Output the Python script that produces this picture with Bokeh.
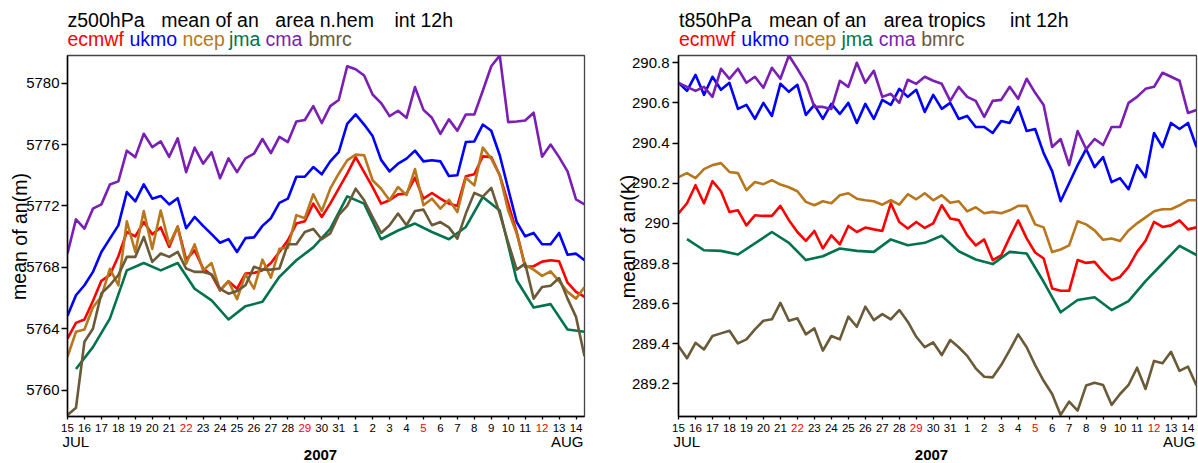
from bokeh.plotting import figure
from bokeh.models import Range1d, FixedTicker, ColumnDataSource, CustomJSTickFormatter, GridBox, Column
from bokeh.core.properties import value
from bokeh.embed import file_html
from bokeh.resources import INLINE

# ---------------- data ----------------
# time axis: days since 15 Jul 2007 00UTC, every 12h; jma once a day at 12UTC
t_all = [i * 0.5 for i in range(62)]
t_jma = [0.5 + i for i in range(31)]

day_labels = ["15", "16", "17", "18", "19", "20", "21", "22", "23", "24", "25", "26", "27", "28", "29",
              "30", "31", "1", "2", "3", "4", "5", "6", "7", "8", "9", "10", "11", "12", "13", "14"]
sunday_index = [7, 14, 21, 28]          # 22 Jul, 29 Jul, 5 Aug, 12 Aug
month_labels = ["JUL", "AUG"]
year_label = "2007"

centres = ["ecmwf", "ukmo", "ncep", "jma", "cma", "bmrc"]
colors = ["#FF0000", "#0000FF", "#B8771C", "#00734D", "#7A1EB4", "#6B5A37"]

# z500hPa, n.hem (m)
z_ecmwf = [5763.36, 5764.38, 5764.6, 5765.8, 5767.12, 5767.5, 5768.72, 5770.3, 5770.02, 5770.95,
           5770.15, 5770.6, 5769.33, 5770.66, 5768.5, 5769.1, 5767.92, 5767.5, 5766.5, 5767.1,
           5766.6, 5767.6, 5767.63, 5767.8, 5768.28, 5769.0, 5769.76, 5770.85, 5771.0, 5772.15,
           5771.28, 5772.15, 5773.12, 5774.1, 5775.18, 5774.2, 5773.23, 5772.15, 5772.37, 5772.75,
           5772.8, 5773.84, 5772.47, 5772.84, 5772.47, 5772.15, 5772.0, 5773.93, 5774.06, 5775.23,
           5775.18, 5774.0, 5772.15, 5770.3, 5768.03, 5768.07, 5768.37, 5768.46, 5768.4, 5767.0,
           5766.4, 5766.08]
z_ukmo = [5764.84, 5766.18, 5766.83, 5767.7, 5769.0, 5769.87, 5770.73, 5772.9, 5772.3, 5773.4,
          5772.47, 5772.65, 5772.1, 5772.5, 5770.55, 5771.28, 5770.7, 5770.16, 5769.6, 5769.84,
          5769.0, 5769.9, 5769.95, 5770.7, 5771.2, 5772.2, 5772.47, 5773.9, 5773.9, 5774.53,
          5774.06, 5774.9, 5775.5, 5777.35, 5777.96, 5777.3, 5776.55, 5775.0, 5774.25, 5774.75,
          5775.08, 5775.6, 5774.9, 5774.97, 5774.9, 5773.95, 5774.0, 5776.16, 5776.2, 5777.3,
          5776.9, 5775.3, 5773.1, 5770.95, 5770.02, 5770.24, 5769.5, 5769.5, 5770.24, 5768.82,
          5768.89, 5768.46]
z_ncep = [5762.17, 5763.8, 5763.95, 5765.4, 5766.1, 5767.9, 5766.83, 5771.0, 5769.0, 5771.67,
          5769.2, 5771.7, 5769.5, 5770.63, 5768.24, 5769.5, 5767.8, 5768.28, 5766.5, 5767.1,
          5765.92, 5767.55, 5766.61, 5768.5, 5767.33, 5769.2, 5769.28, 5771.4, 5771.2, 5772.76,
          5771.67, 5773.12, 5774.1, 5774.97, 5775.34, 5775.3, 5773.67, 5773.12, 5772.37, 5773.23,
          5772.7, 5774.4, 5772.04, 5772.47, 5771.82, 5772.4, 5771.6, 5773.84, 5773.34, 5775.8,
          5775.08, 5774.0, 5771.7, 5770.2, 5768.14, 5767.85, 5767.44, 5767.74, 5767.1, 5766.4,
          5765.96, 5766.72]
z_jma = [5761.37, 5762.8, 5764.66, 5767.8, 5768.28, 5767.8, 5768.28, 5766.6, 5765.85, 5764.6,
         5765.47, 5765.75, 5767.38, 5768.46, 5769.3, 5770.5, 5772.62, 5772.15, 5769.83, 5770.4,
         5770.85, 5770.3, 5769.83, 5770.63, 5772.58, 5771.7, 5767.16, 5765.38, 5765.6, 5763.95,
         5763.8]
z_cma = [5768.9, 5771.13, 5770.52, 5771.82, 5772.1, 5773.4, 5773.6, 5775.6, 5775.18, 5776.7,
         5775.83, 5776.2, 5775.2, 5776.4, 5774.2, 5775.8, 5774.75, 5775.5, 5773.8, 5775.1,
         5774.2, 5775.1, 5775.4, 5776.36, 5775.44, 5776.5, 5776.16, 5777.5, 5777.6, 5778.5,
         5777.4, 5778.5, 5778.9, 5781.1, 5780.9, 5780.5, 5779.26, 5778.7, 5777.85, 5778.2,
         5777.74, 5779.74, 5778.26, 5777.74, 5776.7, 5777.64, 5776.9, 5777.96, 5777.96, 5779.5,
         5781.1, 5781.8, 5777.46, 5777.5, 5777.57, 5778.07, 5775.2, 5776.0, 5775.18, 5774.25,
         5772.43, 5772.1]
z_bmrc = [5758.37, 5758.85, 5763.15, 5764.0, 5766.3, 5766.83, 5767.5, 5768.68, 5768.68, 5769.98,
          5768.35, 5768.9, 5768.68, 5769.0, 5767.92, 5767.7, 5767.7, 5767.55, 5766.6, 5766.28,
          5766.45, 5766.83, 5768.03, 5767.85, 5767.85, 5767.92, 5769.5, 5769.5, 5770.3, 5770.5,
          5769.83, 5770.2, 5771.4, 5772.0, 5773.12, 5772.37, 5771.28, 5770.24, 5770.74, 5771.5,
          5770.74, 5771.67, 5771.76, 5770.74, 5770.95, 5770.6, 5769.87, 5771.5, 5772.85, 5772.6,
          5773.17, 5771.5, 5769.6, 5767.85, 5768.24, 5765.96, 5766.72, 5766.8, 5767.3, 5765.96,
          5764.77, 5762.2]

# t850hPa, tropics (K)
t_ecmwf = [290.05, 290.10, 290.19, 290.10, 290.21, 290.16, 290.057, 290.065, 289.99, 290.04,
           290.037, 290.037, 290.087, 290.016, 289.957, 289.913, 289.962, 289.875, 289.94, 289.896,
           289.987, 289.957, 289.979, 289.97, 289.962, 290.10, 290.007, 289.974, 290.007, 289.977,
           290.0, 290.09, 290.024, 290.016, 289.94, 289.89, 289.92, 289.817, 289.84, 289.93,
           290.015, 289.925, 289.855, 289.825, 289.676, 289.664, 289.664, 289.817, 289.803, 289.808,
           289.758, 289.717, 289.733, 289.783, 289.858, 289.913, 290.007, 289.982, 289.99, 290.015,
           289.97, 289.98]
t_ukmo = [290.70, 290.66, 290.74, 290.64, 290.73, 290.665, 290.70, 290.57, 290.59, 290.52,
          290.60, 290.535, 290.695, 290.655, 290.69, 290.54, 290.59, 290.52, 290.595, 290.545,
          290.60, 290.50, 290.595, 290.52, 290.615, 290.59, 290.67, 290.63, 290.665, 290.555,
          290.64, 290.57, 290.60, 290.52, 290.535, 290.48, 290.48, 290.45, 290.51, 290.50,
          290.58, 290.46, 290.47, 290.35, 290.26, 290.11, 290.20, 290.29, 290.37, 290.28,
          290.33, 290.205, 290.225, 290.17, 290.29, 290.23, 290.45, 290.38, 290.50, 290.47,
          290.50, 290.38]
t_ncep = [290.23, 290.25, 290.225, 290.27, 290.29, 290.30, 290.256, 290.25, 290.165, 290.206,
          290.195, 290.215, 290.193, 290.18, 290.16, 290.107, 290.09, 290.11, 290.10, 290.14,
          290.15, 290.123, 290.115, 290.11, 290.093, 290.115, 290.093, 290.145, 290.12, 290.15,
          290.115, 290.14, 290.103, 290.11, 290.06, 290.08, 290.05, 290.057, 290.05, 290.065,
          290.087, 290.087, 289.995, 289.98, 289.857, 289.87, 289.89, 290.01, 289.995, 289.965,
          289.918, 289.925, 289.912, 289.965, 290.0, 290.03, 290.06, 290.07, 290.07, 290.09,
          290.115, 290.115]
t_jma_v = [289.921, 289.866, 289.863, 289.845, 289.90, 289.957, 289.903, 289.817, 289.836, 289.875,
           289.863, 289.858, 289.92, 289.891, 289.903, 289.938, 289.861, 289.82, 289.797, 289.858,
           289.85, 289.709, 289.557, 289.618, 289.632, 289.568, 289.613, 289.712, 289.80, 289.888,
           289.842]
t_cma = [290.70, 290.68, 290.66, 290.68, 290.63, 290.77, 290.72, 290.77, 290.70, 290.73,
         290.675, 290.775, 290.72, 290.836, 290.77, 290.70, 290.58, 290.58, 290.57, 290.71,
         290.68, 290.80, 290.70, 290.76, 290.63, 290.645, 290.60, 290.715, 290.695, 290.73,
         290.71, 290.695, 290.61, 290.68, 290.63, 290.61, 290.53, 290.61, 290.615, 290.68,
         290.62, 290.72, 290.65, 290.59, 290.38, 290.42, 290.29, 290.46, 290.37, 290.42,
         290.39, 290.48, 290.48, 290.60, 290.63, 290.67, 290.68, 290.75, 290.73, 290.71,
         290.55, 290.565]
t_bmrc = [289.389, 289.328, 289.405, 289.372, 289.439, 289.452, 289.465, 289.402, 289.422, 289.472,
          289.515, 289.522, 289.604, 289.515, 289.527, 289.447, 289.477, 289.366, 289.439, 289.422,
          289.535, 289.485, 289.585, 289.518, 289.548, 289.522, 289.568, 289.51, 289.435, 289.383,
          289.407, 289.344, 289.419, 289.383, 289.34, 289.278, 289.236, 289.233, 289.294, 289.369,
          289.447, 289.383, 289.294, 289.216, 289.15, 289.046, 289.112, 289.067, 289.192, 289.206,
          289.195, 289.096, 289.15, 289.195, 289.281, 289.175, 289.315, 289.303, 289.36, 289.265,
          289.286, 289.192]

z_series = [z_ecmwf, z_ukmo, z_ncep, z_jma, z_cma, z_bmrc]
t_series = [t_ecmwf, t_ukmo, t_ncep, t_jma_v, t_cma, t_bmrc]

z_ticks = [5760, 5764, 5768, 5772, 5776, 5780]
t_ticks = [289.2, 289.4, 289.6, 289.8, 290.0, 290.2, 290.4, 290.6, 290.8]

FONT = "Liberation Sans"
W, H = 1198, 463
PANEL_W = 599
BORDER_TOP, BORDER_BOTTOM = 55, 47
X_END = 30.5


def make_panel(series, yrange, yticks, border_left, border_right, label_standoff):
    p = figure(width=PANEL_W, height=H, output_backend="svg", toolbar_location=None,
               x_range=Range1d(0, X_END), y_range=Range1d(*yrange),
               min_border_left=border_left, min_border_right=border_right,
               min_border_top=BORDER_TOP, min_border_bottom=BORDER_BOTTOM)
    p.background_fill_color = "white"
    p.border_fill_color = "white"
    p.xgrid.visible = False
    p.ygrid.visible = False
    p.outline_line_color = "#444444"
    p.outline_line_width = 1.3

    for vals, col in zip(series, colors):
        xs = t_jma if len(vals) == 31 else t_all
        p.line(xs, vals, line_color=col, line_width=2.6, line_join="round")

    ya = p.yaxis[0]
    ya.ticker = FixedTicker(ticks=yticks)
    ya.formatter = CustomJSTickFormatter(code="return String(Math.round(tick*10)/10);")
    ya.major_label_text_font = FONT
    ya.major_label_text_font_size = "15px"
    ya.major_label_text_color = "black"
    ya.major_tick_out = 6
    ya.major_tick_in = 0
    ya.minor_tick_out = 0
    ya.minor_tick_in = 0
    ya.major_label_standoff = label_standoff
    ya.axis_line_width = 1.5
    ya.major_tick_line_width = 1.3

    xa = p.xaxis[0]
    xa.ticker = FixedTicker(ticks=list(range(31)))
    xa.formatter = CustomJSTickFormatter(code="return '';")
    xa.major_tick_out = 3
    xa.major_tick_in = 0
    xa.minor_tick_out = 0
    xa.minor_tick_in = 0
    xa.axis_line_width = 1.5
    xa.major_tick_line_width = 1.3
    return p


p1 = make_panel(z_series, (5758.28, 5781.80), z_ticks, 67, 15, 2)
p2 = make_panel(t_series, (289.038, 290.836), t_ticks, 79, 2, 3)

# ---------------- text overlay (titles, legend words, day labels, axis titles) -------------
ov = figure(width=W, height=H, output_backend="svg", toolbar_location=None,
            x_range=Range1d(0, W), y_range=Range1d(0, H), x_axis_type=None, y_axis_type=None,
            min_border=0, min_border_left=0, min_border_right=0, min_border_top=0,
            min_border_bottom=0)
ov.outline_line_color = None
ov.background_fill_alpha = 0
ov.border_fill_alpha = 0


def put(xs, ys_mid, texts, cols, size, align="left", angle=0.0, style="normal"):
    src = ColumnDataSource(dict(x=xs, y=[H - v for v in ys_mid], text=texts, color=cols))
    ov.text(x="x", y="y", text="text", text_color="color", source=src,
            text_font=value(FONT), text_font_size=value(size), text_align=align,
            text_baseline="middle", angle=angle, text_font_style=style)


panels = [
    dict(frame_left=67, frame_right=584, title=["z500hPa", "mean of an", "area n.hem", "int 12h"],
         title_x=[67, 160.7, 274.8, 394], legend_x=[67, 129, 182, 228.5, 265, 308],
         ylabel="mean of an(m)", ylabel_x=19),
    dict(frame_left=678, frame_right=1196, title=["t850hPa", "mean of an", "area tropics", "int 12h"],
         title_x=[678.5, 768.4, 883.2, 1009.5], legend_x=[678.5, 740.8, 793.3, 841, 878.2, 920.7],
         ylabel="mean of an(K)", ylabel_x=627),
]

for pn in panels:
    fl, fr = pn["frame_left"], pn["frame_right"]
    scale = (fr - fl) / X_END
    put(pn["title_x"], [19] * 4, pn["title"], ["black"] * 4, "19.5px")
    put(pn["legend_x"], [38.5] * 6, centres, colors, "19.5px")
    day_x = [fl + i * scale for i in range(31)]
    day_col = ["red" if i in sunday_index else "black" for i in range(31)]
    put(day_x, [427] * 31, day_labels, day_col, "11.5px", align="center")
    put([fl - 5], [440.5], [month_labels[0]], ["black"], "15px")
    put([fr - 1], [440.5], [month_labels[1]], ["black"], "15px", align="right")
    put([fl + 253], [454.5], [year_label], ["black"], "15px", align="center", style="bold")
    put([pn["ylabel_x"]], [236], [pn["ylabel"]], ["black"], "19.5px", align="center",
        angle=1.5707963)

overlay_box = Column(children=[ov], width=W, height=H)
layout = GridBox(children=[(p1, 0, 0), (p2, 0, 1), (overlay_box, 0, 0, 1, 2)], spacing=0)
open("out.html", "w").write(file_html(layout, INLINE))
